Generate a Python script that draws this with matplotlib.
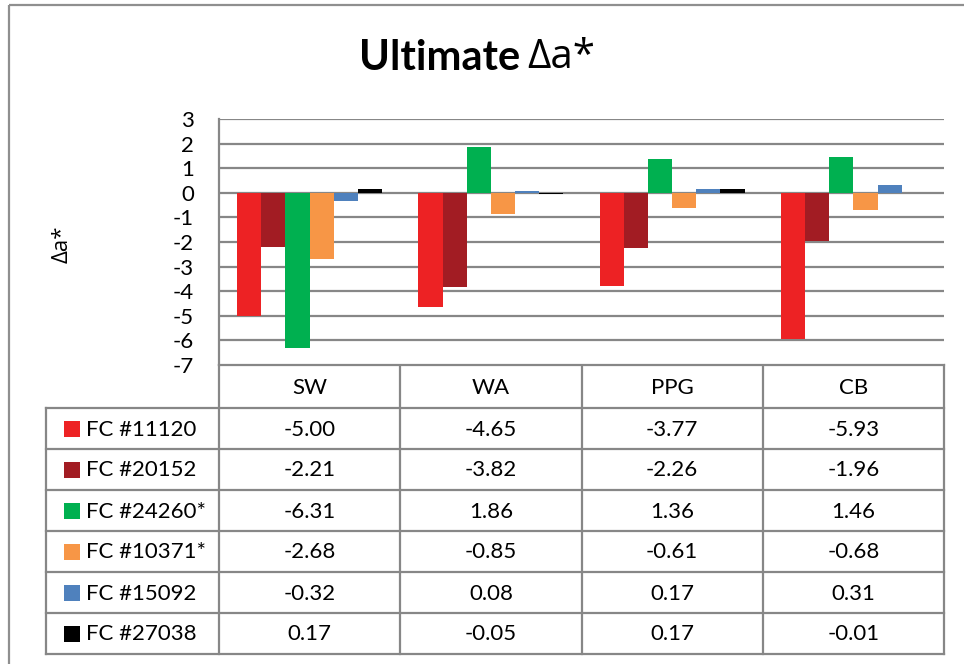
import matplotlib
matplotlib.use("Agg")
import matplotlib.pyplot as plt
from matplotlib.patches import Rectangle
import numpy as np

categories = ["SW", "WA", "PPG", "CB"]
series_names = ["FC #11120", "FC #20152", "FC #24260*", "FC #10371*", "FC #15092", "FC #27038"]
fc_11120 = [-5.00, -4.65, -3.77, -5.93]
fc_20152 = [-2.21, -3.82, -2.26, -1.96]
fc_24260 = [-6.31, 1.86, 1.36, 1.46]
fc_10371 = [-2.68, -0.85, -0.61, -0.68]
fc_15092 = [-0.32, 0.08, 0.17, 0.31]
fc_27038 = [0.17, -0.05, 0.17, -0.01]
series_values = [fc_11120, fc_20152, fc_24260, fc_10371, fc_15092, fc_27038]
colors = ["#ED2224", "#A21C23", "#00B050", "#F79646", "#4F81BD", "#000000"]
yticks = [3, 2, 1, 0, -1, -2, -3, -4, -5, -6, -7]

plt.rcParams['font.family'] = ['Lato', 'DejaVu Sans']
FS = 16

W, H = 964, 664
fig = plt.figure(figsize=(W / 100, H / 100), dpi=100)
GRID = "#878787"

# pixel layout
px_left, px_right = 219, 944
px_top, px_bot = 119, 365

ax = fig.add_axes([px_left / W, 1 - px_bot / H, (px_right - px_left) / W, (px_bot - px_top) / H])
n_cat = len(categories)
n_ser = len(series_values)
gap = 1.5
bw = 1.0 / (n_ser + gap)
x = np.arange(n_cat)
for i, (vals, c) in enumerate(zip(series_values, colors)):
    offs = -0.5 + gap * bw / 2 + bw * (i + 0.5)
    ax.bar(x + offs, vals, width=bw, color=c, edgecolor='none', zorder=3)
ax.set_xlim(-0.5, n_cat - 0.5)
ax.set_ylim(-7, 3)
ax.set_yticks(yticks)
ax.set_yticklabels([str(t) for t in yticks], fontsize=FS)
ax.yaxis.grid(True, color=GRID, linewidth=1.6, zorder=0)
ax.set_xticks([])
for s in ["top", "right", "bottom"]:
    ax.spines[s].set_visible(False)
ax.spines["left"].set_color(GRID)
ax.spines["left"].set_linewidth(1.6)
ax.tick_params(axis='y', length=0, pad=18)

# overlay for title, table and border
ov = fig.add_axes([0, 0, 1, 1])
ov.set_xlim(0, W)
ov.set_ylim(H, 0)
ov.axis('off')
ov.set_zorder(-1)

ov.add_patch(Rectangle((9, 5), W + 20, H + 20, fill=False, edgecolor="#8f8f8f", linewidth=1.6))

ov.text(62, 244, "Δa*", fontsize=FS, rotation=90, ha='center', va='center',
        family=['Open Sans', 'DejaVu Sans'])

ov.text(520, 58, "Ultimate", fontsize=30, fontweight='bold', ha='right', va='center')
ov.text(527, 58, "Δa*", fontsize=29, ha='left', va='center', family=['Open Sans', 'DejaVu Sans'])

col_edges = np.linspace(px_left, px_right, n_cat + 1)
head_top, head_bot = 365, 408
tab_left = 46
row_edges = np.linspace(head_bot, 654, n_ser + 1)
lw = 1.6
# header row
ov.plot([px_left, px_right], [head_top, head_top], color=GRID, lw=lw)
for xe in col_edges:
    ov.plot([xe, xe], [head_top, row_edges[-1]], color=GRID, lw=lw)
for j, cat in enumerate(categories):
    ov.text((col_edges[j] + col_edges[j + 1]) / 2, (head_top + head_bot) / 2 + 1, cat,
            fontsize=FS, ha='center', va='center')
for ye in row_edges:
    ov.plot([tab_left, px_right], [ye, ye], color=GRID, lw=lw)
ov.plot([tab_left, tab_left], [row_edges[0], row_edges[-1]], color=GRID, lw=lw)
for i, name in enumerate(series_names):
    yc = (row_edges[i] + row_edges[i + 1]) / 2
    ov.add_patch(Rectangle((64, yc - 8), 16, 16, color=colors[i], lw=0))
    ov.text(86, yc + 1, name, fontsize=FS, ha='left', va='center')
    for j in range(n_cat):
        ov.text((col_edges[j] + col_edges[j + 1]) / 2, yc + 1, f"{series_values[i][j]:.2f}",
                fontsize=FS, ha='center', va='center')

fig.savefig("out.png", dpi=100)
